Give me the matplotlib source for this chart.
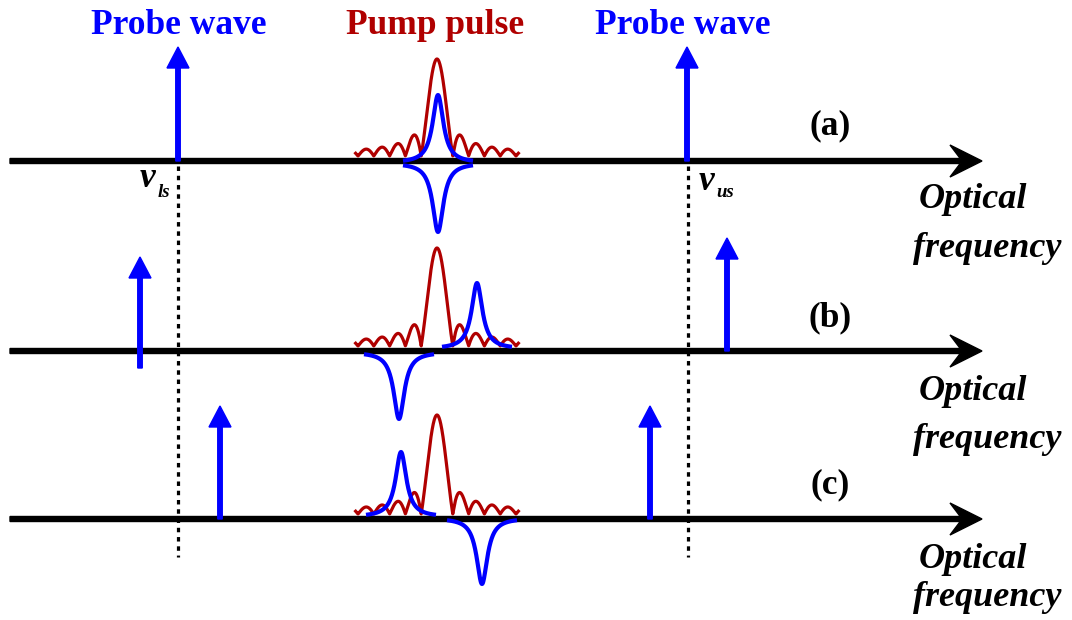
import numpy as np
import matplotlib.pyplot as plt

# Layout works in pixel units: x to the right, y downward
W, H = 1072, 620

BLUE = '#0000FF'
RED = '#B00000'

# Frequency axes of the three panels
axis_y = [161, 351, 519]
panel_labels = ['(a)', '(b)', '(c)']
panel_label_y = [134, 326, 493]
axis_x0, axis_x1 = 10, 982
optical_y = [208, 400, 568]
frequency_y = [257, 448, 606]

# Probe waves: lower and upper sideband positions per panel
probe_lower_x = [178, 140, 220]
probe_lower_base = [161, 368, 519]
probe_lower_tip = [47, 257, 406]
probe_upper_x = [687, 727, 650]
probe_upper_tip = [47, 238, 406]

# Reference sideband frequencies (dotted markers)
nu_ls_x, nu_us_x = 178, 688
marker_top, marker_bottom = 166, 557

# Pump pulse spectrum |sinc|
pump_center = 437
pump_height = [97, 98, 99]
pump_lobe = 15.8
pump_extent = 5.15

# Brillouin gain / loss lines (Lorentzian)
gain_x = [438, 477, 401]
gain_amp = [68, 66, 65]
gain_base = [163, 349, 517]
loss_x = [438, 399, 482]
loss_amp = [69, 67, 66]
loss_base = [163, 352, 518]
lor_hw = 6.5
lor_span = 35

fig = plt.figure(figsize=(W / 100, H / 100), dpi=100)
ax = fig.add_axes([0, 0, 1, 1])
ax.set_xlim(0, W)
ax.set_ylim(H, 0)
ax.axis('off')

serif = 'Liberation Serif'


def lorentz(c, amp, base, sign):
    x = np.linspace(c - lor_span, c + lor_span, 300)
    y = base - sign * amp / (1 + ((x - c) / lor_hw) ** 2)
    return x, y


for i, y0 in enumerate(axis_y):
    # frequency axis with swept arrow head
    ax.arrow(axis_x0, y0, axis_x1 - axis_x0, 0, width=5, head_width=32,
             head_length=32, overhang=0.32, length_includes_head=True,
             color='black', zorder=2)

    # pump spectrum
    u = np.linspace(-pump_extent, pump_extent, 800)
    ax.plot(pump_center + pump_lobe * u, y0 - 5 - pump_height[i] * np.abs(np.sinc(u)),
            color=RED, lw=2.3, zorder=3)

    # gain and loss lines
    gx, gy = lorentz(gain_x[i], gain_amp[i], gain_base[i], 1)
    lx, ly = lorentz(loss_x[i], loss_amp[i], loss_base[i], -1)
    ax.plot(gx, gy, color=BLUE, lw=3.0, zorder=4, solid_capstyle='butt')
    ax.plot(lx, ly, color=BLUE, lw=3.0, zorder=4, solid_capstyle='butt')

    # probe waves
    for px, pb, pt in [(probe_lower_x[i], probe_lower_base[i], probe_lower_tip[i]),
                       (probe_upper_x[i], y0, probe_upper_tip[i])]:
        ax.arrow(px, pb, 0, pt - pb, width=4.5, head_width=22, head_length=21,
                 length_includes_head=True, color=BLUE, zorder=5)

    ax.text(830, panel_label_y[i], panel_labels[i], ha='center', va='baseline',
            fontsize=25.5, fontweight='bold', family=serif)
    ax.text(919, optical_y[i], 'Optical', ha='left', va='baseline', fontsize=26,
            fontweight='bold', fontstyle='italic', family=serif)
    ax.text(913, frequency_y[i], 'frequency', ha='left', va='baseline', fontsize=26,
            fontweight='bold', fontstyle='italic', family=serif)

# dotted reference lines
for xm in (nu_ls_x, nu_us_x):
    ax.plot([xm, xm], [marker_top, marker_bottom], color='black', lw=2.3,
            linestyle=(0, (1.4, 1.5)), zorder=1)

# sideband labels
ax.text(140, 187, 'v', ha='left', va='baseline', fontsize=25.5,
        fontweight='bold', fontstyle='italic', family=serif)
ax.text(158, 197, 'ls', ha='left', va='baseline', fontsize=13.5,
        fontweight='bold', fontstyle='italic', family=serif)
ax.text(699, 190, 'v', ha='left', va='baseline', fontsize=25.5,
        fontweight='bold', fontstyle='italic', family=serif)
ax.text(716, 197, 'us', ha='left', va='baseline', fontsize=13.5,
        fontweight='bold', fontstyle='italic', family=serif)

# headings
ax.text(179, 34, 'Probe wave', ha='center', va='baseline', fontsize=25.5,
        fontweight='bold', color=BLUE, family=serif)
ax.text(435, 34, 'Pump pulse', ha='center', va='baseline', fontsize=25.5,
        fontweight='bold', color=RED, family=serif)
ax.text(683, 34, 'Probe wave', ha='center', va='baseline', fontsize=25.5,
        fontweight='bold', color=BLUE, family=serif)

fig.savefig('out.png', dpi=100)
